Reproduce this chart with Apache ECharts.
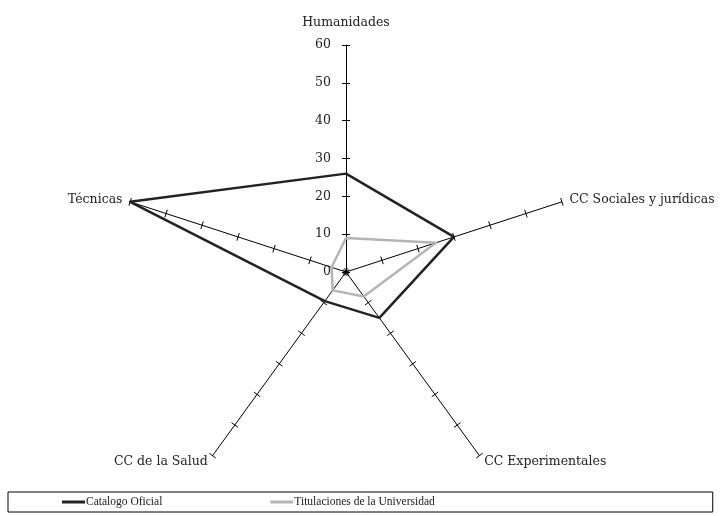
<!DOCTYPE html>
<html>
<head>
<meta charset="utf-8">
<script src="https://cdn.jsdelivr.net/npm/echarts@6/dist/echarts.min.js"></script>
<style>html,body{margin:0;padding:0;background:#fff;}#c{width:721px;height:516px;}</style>
</head>
<body>
<div id="c"></div>
<script>
// Indicators listed counter-clockwise starting at the top
const categories = ['Humanidades', 'Técnicas', 'CC de la Salud', 'CC Experimentales', 'CC Sociales y jurídicas'];
const catalogoOficial = [26, 60, 9.5, 15, 30];
const titulacionesUniversidad = [9, 4, 6, 8, 25];
const seriesNames = ['Catalogo Oficial', 'Titulaciones de la Universidad'];
const axisMax = 60;
const tickValues = [0, 10, 20, 30, 40, 50, 60];

const chart = echarts.init(document.getElementById('c'), null, {renderer: 'canvas'});
const font = 'DejaVu Serif';
const fs = 12.5;
const baseRadar = {
  center: [346, 272],
  shape: 'polygon',
  splitNumber: 6,
  splitLine: {show: false},
  splitArea: {show: false},
  axisLabel: {show: false}
};
chart.setOption({
  animation: false,
  backgroundColor: '#fff',
  textStyle: {fontFamily: font},
  legend: {
    left: 8, top: 492,
    padding: [4, 278, 4, 54],
    itemGap: 108,
    itemWidth: 23, itemHeight: 3,
    borderColor: '#000', borderWidth: 1,
    textStyle: {fontFamily: 'Liberation Serif', fontSize: 11.5, color: '#222', padding: [0, 0, 0, -4]},
    data: [
      {name: seriesNames[0], icon: 'rect', itemStyle: {color: '#222'}},
      {name: seriesNames[1], icon: 'rect', itemStyle: {color: '#b4b4b4'}}
    ]
  },
  grid: {left: 346, top: 45, width: 10, height: 227},
  xAxis: {type: 'value', show: false},
  yAxis: {
    type: 'value', min: tickValues[0], max: tickValues[tickValues.length - 1], interval: 10,
    axisLine: {show: false},
    axisTick: {show: false},
    axisLabel: {margin: 15, fontFamily: font, fontSize: fs, color: '#222'},
    splitLine: {show: false}
  },
  radar: [
    Object.assign({}, baseRadar, {
      radius: 227,
      startAngle: 90,
      indicator: categories.map(n => ({name: n, min: 0, max: axisMax})),
      axisName: {
        color: '#222', fontFamily: font, fontSize: fs,
        formatter: function (name) { return name === categories[0] ? '{t|' + name + '}' : name; },
        rich: {t: {fontFamily: font, fontSize: fs, color: '#222', padding: [0, 0, 8, 0]}}
      },
      nameGap: 8,
      axisLine: {show: true, lineStyle: {color: '#000', width: 1}},
      axisTick: {show: true, length: 4, lineStyle: {color: '#000', width: 1}}
    }),
    Object.assign({}, baseRadar, {
      radius: -227,
      startAngle: 270,
      indicator: categories.map(n => ({name: n, min: 0, max: axisMax})),
      axisName: {show: false},
      axisLine: {show: false},
      axisTick: {show: true, length: 4, lineStyle: {color: '#000', width: 1}}
    })
  ],
  series: [{
    type: 'radar',
    radarIndex: 0,
    symbol: 'none',
    data: [
      {name: seriesNames[0], value: catalogoOficial, lineStyle: {color: '#222', width: 2.5}, itemStyle: {color: '#222'}},
      {name: seriesNames[1], value: titulacionesUniversidad, lineStyle: {color: '#b4b4b4', width: 2.5}, itemStyle: {color: '#b4b4b4'}}
    ]
  }]
});
</script>
</body>
</html>
